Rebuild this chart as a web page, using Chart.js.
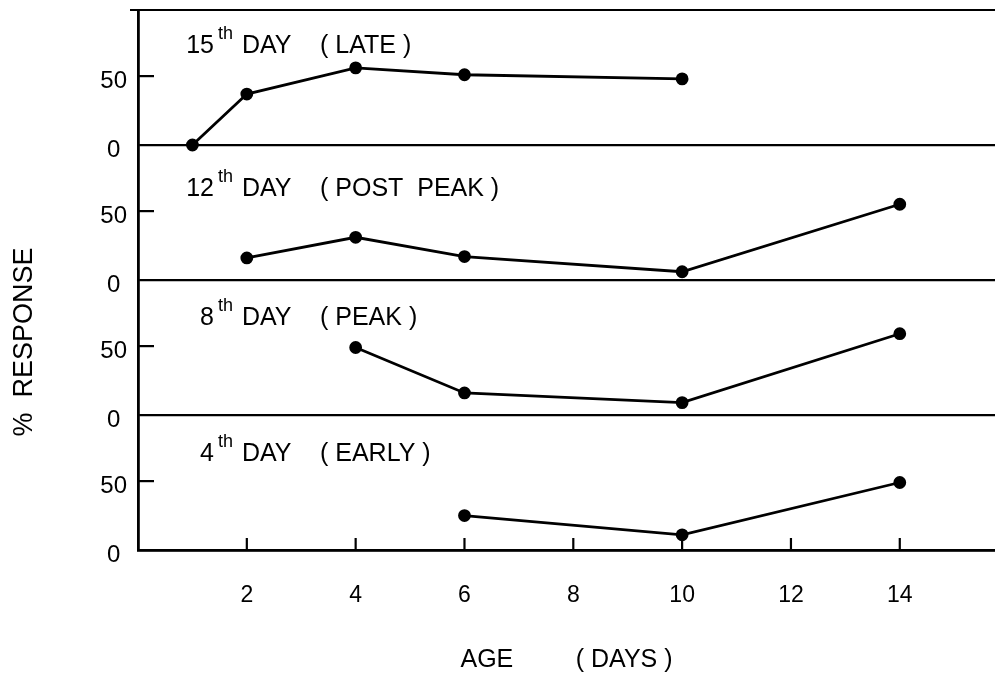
<!DOCTYPE html>
<html>
<head>
<meta charset="utf-8">
<script src="https://cdn.jsdelivr.net/npm/chart.js@4.4.1/dist/chart.umd.min.js"></script>
<style>
  html, body { margin: 0; padding: 0; background: #fff; }
  #wrap { width: 995px; height: 680px; position: relative; }
</style>
</head>
<body>
<div id="wrap"><canvas id="myChart"></canvas></div>
<script>
// Panels, top to bottom
const panelDays = ["15", "12", "8", "4"];
const panelPhases = ["LATE", "POST  PEAK", "PEAK", "EARLY"];

// Age (days) and % response for each panel
const lateAges = [1, 2, 4, 6, 10];
const lateResponse = [0, 37, 56, 51, 48];
const postPeakAges = [2, 4, 6, 10, 14];
const postPeakResponse = [16, 31, 17, 6, 55];
const peakAges = [4, 6, 10, 14];
const peakResponse = [49, 16, 9, 59];
const earlyAges = [6, 10, 14];
const earlyResponse = [25, 11, 49];

// Tick labels
const xTicks = [2, 4, 6, 8, 10, 12, 14];
const yTicks = [0, 50];

const FONT = "'Liberation Sans', Arial, sans-serif";
Chart.defaults.font.family = FONT;
Chart.defaults.color = "#000";

const axisIds = ["yLate", "yPostPeak", "yPeak", "yEarly"];
const series = [
  [lateAges, lateResponse],
  [postPeakAges, postPeakResponse],
  [peakAges, peakResponse],
  [earlyAges, earlyResponse],
];

function toPoints(ages, values) {
  return ages.map((a, i) => ({ x: a, y: values[i] }));
}

const datasets = series.map((s, i) => ({
  label: panelDays[i] + "th DAY (" + panelPhases[i] + ")",
  data: toPoints(s[0], s[1]),
  yAxisID: axisIds[i],
  borderColor: "#000",
  borderWidth: 2.8,
  pointRadius: 5,
  pointBackgroundColor: "#000",
  pointBorderColor: "#000",
  tension: 0,
  clip: false,
}));

function panelAxis(id) {
  return {
    type: "linear",
    position: "left",
    stack: "panels",
    stackWeight: 1,
    min: 0,
    max: 98,
    afterBuildTicks: (scale) => {
      scale.ticks = yTicks.map((v) => ({ value: v }));
    },
    afterFit: (scale) => {
      scale.width = 138;
      scale.paddingTop = 0;
      scale.paddingBottom = 0;
    },
    grid: {
      drawTicks: false,
      lineWidth: 2.2,
      color: (ctx) => (ctx.tick && ctx.tick.value === 0 ? "#000" : "rgba(0,0,0,0)"),
    },
    border: { display: true, color: "#000", width: 2.8 },
    ticks: {
      font: { size: 24 },
      padding: 11,
      crossAlign: "center",
      labelOffset: 5,
    },
  };
}

const scales = {
  x: {
    type: "linear",
    min: 0,
    max: 15.75,
    afterBuildTicks: (scale) => {
      scale.ticks = xTicks.map((v) => ({ value: v }));
    },
    afterFit: (scale) => {
      scale.height = 130;
      scale.paddingLeft = 0;
      scale.paddingRight = 0;
    },
    grid: { display: false, drawTicks: false },
    border: { display: true, color: "#000", width: 2.8 },
    ticks: { font: { size: 23 }, padding: 32, maxRotation: 0 },
    title: {
      display: true,
      text: "AGE         ( DAYS )",
      font: { size: 25 },
      padding: { top: 0, bottom: 5 },
    },
  },
};
// stacked left axes are laid out last-defined on top, so add them bottom-up
axisIds.slice().reverse().forEach((id) => { scales[id] = panelAxis(id); });

// Frame top line, inward tick marks, panel captions and the y title
const decorations = {
  id: "decorations",
  afterDraw(chart) {
    const ctx = chart.ctx;
    const area = chart.chartArea;
    const xScale = chart.scales.x;
    ctx.save();
    ctx.strokeStyle = "#000";
    ctx.fillStyle = "#000";

    ctx.lineWidth = 2.2;
    ctx.beginPath();
    ctx.moveTo(area.left - 8, area.top);
    ctx.lineTo(area.right, area.top);
    ctx.stroke();

    axisIds.forEach((id) => {
      const s = chart.scales[id];
      yTicks.filter((v) => v !== 0).forEach((v) => {
        const y = s.getPixelForValue(v);
        ctx.beginPath();
        ctx.moveTo(area.left, y);
        ctx.lineTo(area.left + 16, y);
        ctx.stroke();
      });
    });
    xTicks.forEach((v) => {
      const x = xScale.getPixelForValue(v);
      ctx.beginPath();
      ctx.moveTo(x, area.bottom);
      ctx.lineTo(x, area.bottom - 12);
      ctx.stroke();
    });

    const baselines = [43, 51, 45, 46];
    axisIds.forEach((id, i) => {
      const top = chart.scales[id].top;
      const y = top + baselines[i];
      ctx.textBaseline = "alphabetic";
      ctx.font = "18px " + FONT;
      ctx.textAlign = "right";
      ctx.fillText("th", 233, y - 14);
      const supW = ctx.measureText("th").width;
      ctx.font = "25px " + FONT;
      ctx.fillText(panelDays[i], 233 - supW - 4, y);
      ctx.textAlign = "left";
      ctx.fillText("DAY", 242, y);
      ctx.fillText("( " + panelPhases[i] + " )", 320, y);
    });

    ctx.translate(25, 342);
    ctx.rotate(-Math.PI / 2);
    ctx.textAlign = "center";
    ctx.textBaseline = "middle";
    ctx.font = "27px " + FONT;
    ctx.fillText("%  RESPONSE", 0, 0);
    ctx.restore();
  },
};

const ctx = document.getElementById("myChart").getContext("2d");
const myChart = new Chart(ctx, {
  type: "line",
  data: { datasets: datasets },
  options: {
    responsive: true,
    maintainAspectRatio: false,
    animation: false,
    layout: { autoPadding: false, padding: { top: 10, left: 0, right: 0, bottom: 0 } },
    plugins: {
      legend: { display: false },
      tooltip: { enabled: false },
    },
    scales: scales,
  },
  plugins: [decorations],
});
</script>
</body>
</html>
